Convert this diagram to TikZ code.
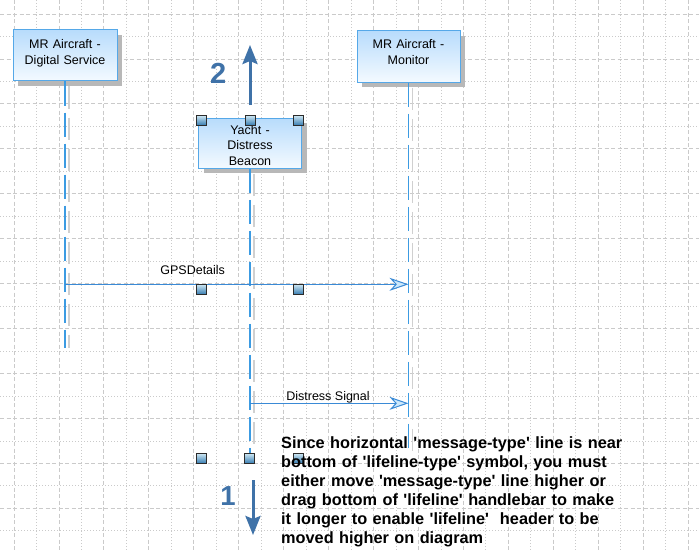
\documentclass[tikz,border=0pt]{standalone}
\usepackage{fontspec}
\newfontfamily\lsans{Liberation Sans}
\usetikzlibrary{arrows.meta,shadows}
\definecolor{gridc}{HTML}{CACACA}
\definecolor{boxborder}{HTML}{55A8E8}
\definecolor{boxtop}{HTML}{B8DCFC}
\definecolor{boxbot}{HTML}{F4FAFF}
\definecolor{shadowc}{HTML}{B8B8B8}
\definecolor{lifeblue}{HTML}{3C9BE2}
\definecolor{lifeshad}{HTML}{D0D0D0}
\definecolor{msgblue}{HTML}{3A8AD6}
\definecolor{msgfill}{HTML}{CCE8FB}
\definecolor{arrowblue}{HTML}{3F72A8}
\definecolor{handletop}{HTML}{D4ECF6}
\definecolor{handlebot}{HTML}{3B7FB3}
\definecolor{handleb}{HTML}{2B2B2B}
\tikzset{
  gridA/.style={draw=gridc, line width=0.8pt, dash pattern=on 4pt off 2.5pt},
  gridB/.style={draw=gridc, line width=0.8pt, dash pattern=on 1pt off 2pt},
  umlbox/.style={draw=boxborder, line width=1pt, top color=boxtop, bottom color=boxbot,
    drop shadow={shadow xshift=5pt, shadow yshift=-5pt, fill=shadowc, opacity=1},
    minimum width=104pt, minimum height=51pt, inner sep=0pt},
  boxtxt/.style={font=\lsans\fontsize{12.5}{15.8}\selectfont, text width=102pt, align=center, inner sep=0pt},
  lifeline/.style={draw=lifeblue, line width=1.5pt, dash pattern=on 24pt off 7pt},
  lifeshadow/.style={draw=lifeshad, line width=1.5pt, dash pattern=on 22pt off 9pt},
  msg/.style={draw=msgblue, line width=1pt, -{Stealth[length=19pt, width=13pt, inset=6pt, fill=msgfill]}},
  msglbl/.style={font=\lsans\fontsize{12.5}{15}\selectfont, inner sep=0pt},
  bigarrow/.style={draw=arrowblue, line width=3pt, -{Stealth[length=19pt, width=15pt, inset=3pt]}},
  numlbl/.style={font=\lsans\bfseries\fontsize{29}{30}\selectfont, text=arrowblue, inner sep=0pt},
  handle/.style={draw=handleb, line width=0.8pt, top color=handletop, bottom color=handlebot,
    minimum size=10pt, inner sep=0pt},
  notetxt/.style={font=\lsans\bfseries\fontsize{16.3}{19}\selectfont, text width=420pt, align=left, inner sep=0pt}
}
\begin{document}
\begin{tikzpicture}[x=1pt,y=-1pt]
\useasboundingbox (0,0) rectangle (699,551);
\fill[white] (0,0) rectangle (699,551);
% grid
\foreach \k in {0,2,...,30} \draw[gridA] ({14+22.47*\k},0) -- ({14+22.47*\k},551);
\foreach \k in {1,3,...,29} \draw[gridB] ({14+22.47*\k},0) -- ({14+22.47*\k},551);
\foreach \k in {0,2,...,22} \draw[gridA] (0,{14+22.47*\k}) -- (699,{14+22.47*\k});
\foreach \k in {1,3,...,23} \draw[gridB] (0,{14+22.47*\k}) -- (699,{14+22.47*\k});

% lifeline ends
\coordinate (l1end) at (65,348);
\coordinate (l2end) at (250,458);
\coordinate (l3end) at (408.5,453);

% boxes
\node[umlbox] (ds) at (65,55.5) {};
\node[umlbox, minimum width=103pt, minimum height=50pt] (yb) at (250,143.3) {};
\node[umlbox, minimum width=103pt, minimum height=51.5pt] (mon) at (408.5,56.5) {};

% lifelines (shadow then line)
\draw[lifeshadow] ([xshift=4pt,yshift=-5pt]ds.south) -- ([xshift=4pt]l1end);
\draw[lifeshadow] ([xshift=4pt,yshift=-5pt]yb.south) -- ([xshift=4pt]l2end);
\draw[lifeshadow] ([xshift=4pt,yshift=-5pt]mon.south) -- ([xshift=4pt]l3end);
\draw[lifeline] (ds.south) -- (l1end);
\draw[lifeline] (yb.south) -- (l2end);
\draw[lifeline] (mon.south) -- (l3end);

% box texts
\node[boxtxt, anchor=base] (dst) at (65,48.3) {MR Aircraft -\\Digital Service};
\node[boxtxt, anchor=base] (ybt) at (250,134) {Yacht -\\Distress\\Beacon};
\node[boxtxt, anchor=base] (mont) at (408.5,48.3) {MR Aircraft -\\Monitor};

% messages
\coordinate (gpsS) at (65,284.3);
\coordinate (gpsE) at (408.5,284.3);
\draw[msg] (gpsS) -- (gpsE);
\node[msglbl, anchor=base] (gpsl) at (192.7,274) {GPSDetails};
\coordinate (dsS) at (250,403.3);
\coordinate (dsE) at (408.5,403.3);
\draw[msg] (dsS) -- (dsE);
\node[msglbl, anchor=base] (dsl) at (328,400.7) {Distress Signal};

% big arrows
\coordinate (up2s) at (250,105);
\coordinate (up2t) at (250,45);
\draw[bigarrow] (up2s) -- (up2t);
\node[numlbl, anchor=base] (n2) at (218.3,83.3) {2};
\coordinate (dn1s) at (253,480);
\coordinate (dn1t) at (253,535);
\draw[bigarrow] (dn1s) -- (dn1t);
\node[numlbl, font=\lsans\bfseries\fontsize{27.5}{28}\selectfont, anchor=base] (n1) at (228,505) {1};

% handles
\node[handle] (h1) at (201,120) {};
\node[handle] (h2) at (250,120) {};
\node[handle] (h3) at (298,120) {};
\node[handle] (h4) at (201.5,289) {};
\node[handle] (h5) at (298,289) {};
\node[handle] (h6) at (201,458) {};
\node[handle] (h7) at (249.5,458) {};
\node[handle] (h8) at (298,458) {};

% note text
\node[notetxt, anchor=base west] (note) at (281,448.3) {Since horizontal 'message-type' line is near\\
bottom of 'lifeline-type' symbol, you must\\
either move 'message-type' line higher or\\
drag bottom of 'lifeline' handlebar to make\\
it longer to enable 'lifeline'\ \ header to be\\
moved higher on diagram};
\end{tikzpicture}
\end{document}
